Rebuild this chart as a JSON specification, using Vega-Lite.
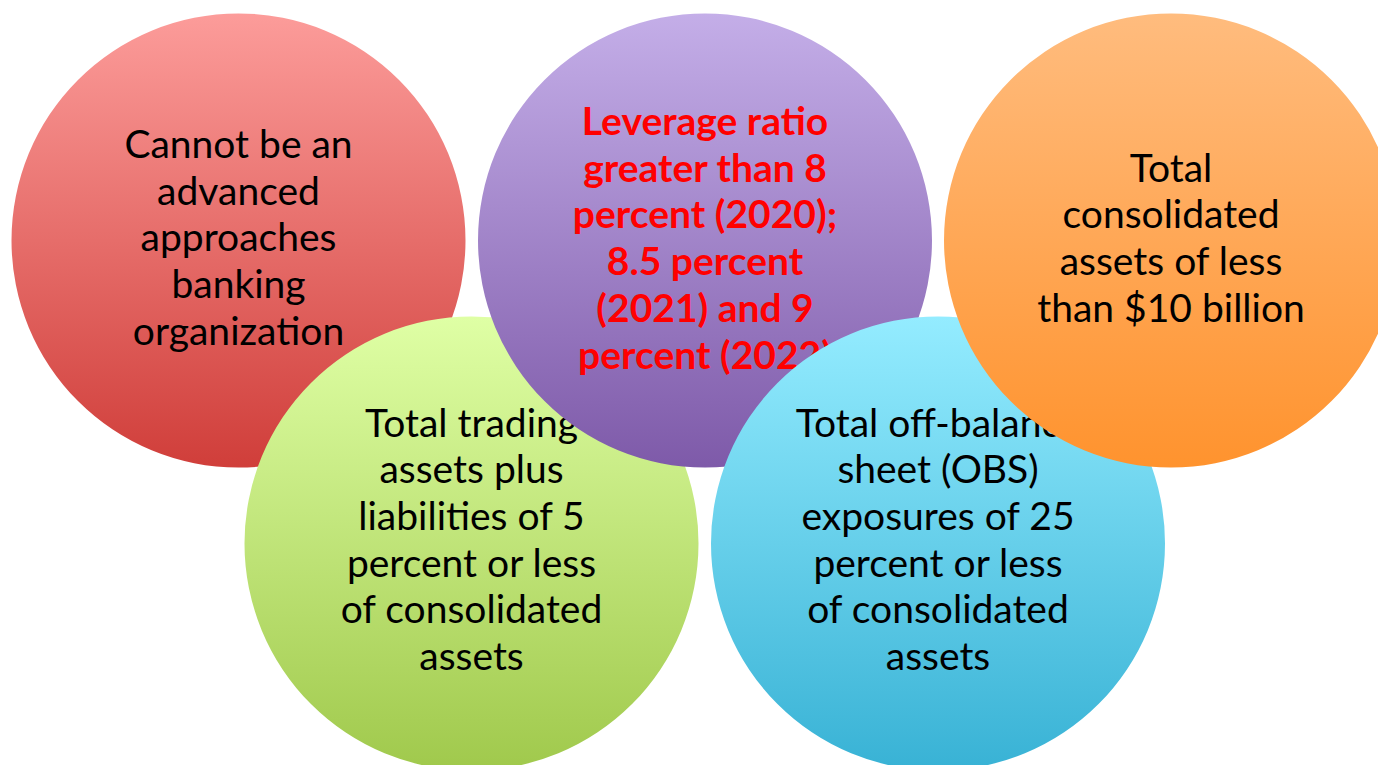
{
  "$schema": "https://vega.github.io/schema/vega-lite/v6.json",
  "width": 1378,
  "height": 765,
  "padding": 0,
  "autosize": {"type": "none"},
  "background": "#ffffff",
  "config": {"view": {"stroke": null}},
  "data": {
    "values": [
      {"id": "red", "cx": 238.5, "cy": 240.5, "label": "Cannot be an|advanced|approaches|banking|organization"},
      {"id": "green", "cx": 471.5, "cy": 543.5, "label": "Total trading|assets plus|liabilities of 5|percent or less|of consolidated|assets"},
      {"id": "purple", "cx": 705, "cy": 240.5, "label": "Leverage ratio|greater than 8|percent (2020);|8.5 percent|(2021) and 9|percent (2022)"},
      {"id": "blue", "cx": 938, "cy": 543.5, "label": "Total off-balance|sheet (OBS)|exposures of 25|percent or less|of consolidated|assets"},
      {"id": "orange", "cx": 1171, "cy": 240.5, "label": "Total|consolidated|assets of less|than $10 billion"}
    ]
  },
  "encoding": {
    "x": {"field": "cx", "type": "quantitative", "scale": {"domain": [0, 1378], "nice": false, "zero": false}, "axis": null},
    "y": {"field": "cy", "type": "quantitative", "scale": {"domain": [0, 765], "reverse": true, "nice": false, "zero": false}, "axis": null}
  },
  "layer": [
    {
      "transform": [{"filter": "datum.id == 'red'"}],
      "mark": {"type": "point", "shape": "circle", "filled": true, "size": 206116, "opacity": 1, "strokeWidth": 0, "clip": false,
        "fill": {"gradient": "linear", "x1": 0, "y1": 0, "x2": 0, "y2": 1, "stops": [{"offset": 0, "color": "#FC9C9A"}, {"offset": 1, "color": "#D03E3A"}]}}
    },
    {
      "transform": [{"filter": "datum.id == 'red'"}],
      "mark": {"type": "text", "lineBreak": "|", "font": "Lato", "fontSize": 39, "lineHeight": 46.7, "baseline": "alphabetic", "align": "center", "color": "#000000", "dy": -82.5},
      "encoding": {"text": {"field": "label"}}
    },
    {
      "transform": [{"filter": "datum.id == 'green'"}],
      "mark": {"type": "point", "shape": "circle", "filled": true, "size": 206116, "opacity": 1, "strokeWidth": 0,
        "fill": {"gradient": "linear", "x1": 0, "y1": 0, "x2": 0, "y2": 1, "stops": [{"offset": 0, "color": "#DFFFA5"}, {"offset": 1, "color": "#A0C94C"}]}}
    },
    {
      "transform": [{"filter": "datum.id == 'green'"}],
      "mark": {"type": "text", "lineBreak": "|", "font": "Lato", "fontSize": 39, "lineHeight": 46.7, "baseline": "alphabetic", "align": "center", "color": "#000000", "dy": -106.8},
      "encoding": {"text": {"field": "label"}}
    },
    {
      "transform": [{"filter": "datum.id == 'purple'"}],
      "mark": {"type": "point", "shape": "circle", "filled": true, "size": 206116, "opacity": 1, "strokeWidth": 0,
        "fill": {"gradient": "linear", "x1": 0, "y1": 0, "x2": 0, "y2": 1, "stops": [{"offset": 0, "color": "#C4AEE8"}, {"offset": 1, "color": "#7E5AA9"}]}}
    },
    {
      "transform": [{"filter": "datum.id == 'purple'"}],
      "mark": {"type": "text", "lineBreak": "|", "font": "Lato", "fontSize": 39, "fontWeight": "bold", "lineHeight": 46.7, "baseline": "alphabetic", "align": "center", "color": "#FF0000", "dy": -105.5},
      "encoding": {"text": {"field": "label"}}
    },
    {
      "transform": [{"filter": "datum.id == 'blue'"}],
      "mark": {"type": "point", "shape": "circle", "filled": true, "size": 206116, "opacity": 1, "strokeWidth": 0,
        "fill": {"gradient": "linear", "x1": 0, "y1": 0, "x2": 0, "y2": 1, "stops": [{"offset": 0, "color": "#94ECFF"}, {"offset": 1, "color": "#38B2D5"}]}}
    },
    {
      "transform": [{"filter": "datum.id == 'blue'"}],
      "mark": {"type": "text", "lineBreak": "|", "font": "Lato", "fontSize": 39, "lineHeight": 46.7, "baseline": "alphabetic", "align": "center", "color": "#000000", "dy": -106.8},
      "encoding": {"text": {"field": "label"}}
    },
    {
      "transform": [{"filter": "datum.id == 'orange'"}],
      "mark": {"type": "point", "shape": "circle", "filled": true, "size": 206116, "opacity": 1, "strokeWidth": 0,
        "fill": {"gradient": "linear", "x1": 0, "y1": 0, "x2": 0, "y2": 1, "stops": [{"offset": 0, "color": "#FFBC7E"}, {"offset": 1, "color": "#FF932E"}]}}
    },
    {
      "transform": [{"filter": "datum.id == 'orange'"}],
      "mark": {"type": "text", "lineBreak": "|", "font": "Lato", "fontSize": 39, "lineHeight": 46.7, "baseline": "alphabetic", "align": "center", "color": "#000000", "dy": -58.8},
      "encoding": {"text": {"field": "label"}}
    }
  ]
}
